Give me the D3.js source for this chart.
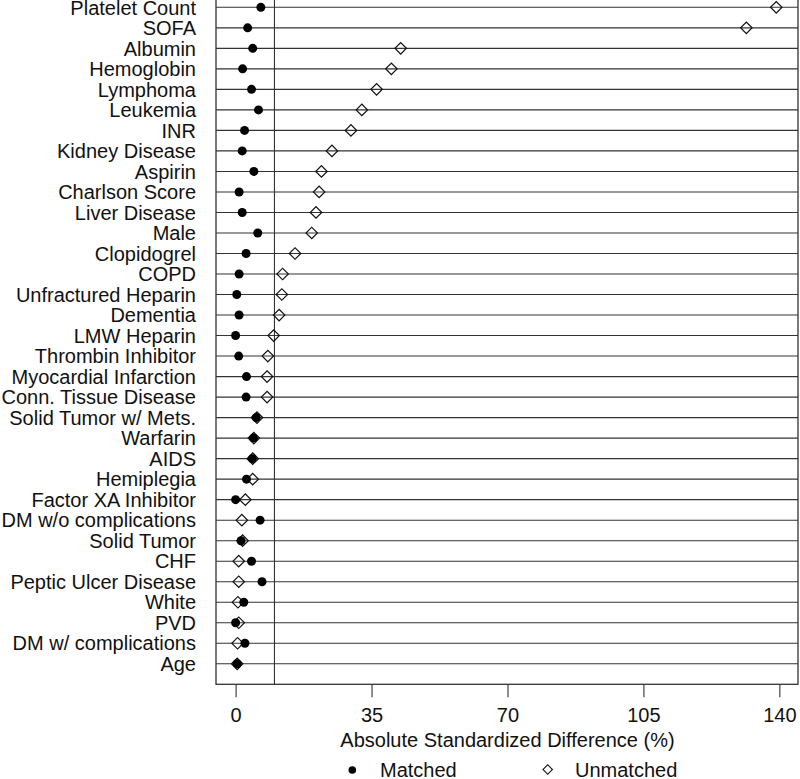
<!DOCTYPE html>
<html>
<meta charset="utf-8">
<script src="https://d3js.org/d3.v7.min.js"></script>
<style>
  body { margin: 0; background: #fff; }
  text { font-family: "Liberation Sans", Arial, sans-serif; fill: #111; }
</style>
<body>
<div id="my_dataviz"></div>
<script>

// covariates, top to bottom
var labels = ["Platelet Count", "SOFA", "Albumin", "Hemoglobin", "Lymphoma", "Leukemia",
  "INR", "Kidney Disease", "Aspirin", "Charlson Score", "Liver Disease", "Male",
  "Clopidogrel", "COPD", "Unfractured Heparin", "Dementia", "LMW Heparin",
  "Thrombin Inhibitor", "Myocardial Infarction", "Conn. Tissue Disease",
  "Solid Tumor w/ Mets.", "Warfarin", "AIDS", "Hemiplegia", "Factor XA Inhibitor",
  "DM w/o complications", "Solid Tumor", "CHF", "Peptic Ulcer Disease", "White",
  "PVD", "DM w/ complications", "Age"];

// absolute standardized difference (%)
var matched = [6.5, 3.1, 4.4, 1.8, 4.1, 5.9, 2.3, 1.7, 4.7, 0.9, 1.7, 5.7,
  2.7, 0.9, 0.3, 0.9, 0.0, 0.8, 2.8, 2.7, 5.3, 4.6, 4.3, 2.8, 0.0,
  6.3, 1.4, 4.1, 6.8, 2.1, 0.0, 2.4, 0.4];
var unmatched = [139.2, 131.5, 42.5, 40.1, 36.3, 32.5, 29.7, 24.8, 22.1, 21.5, 20.7, 19.6,
  15.3, 12.1, 11.9, 11.2, 9.8, 8.3, 8.1, 8.1, 5.5, 4.7, 4.4, 4.4, 2.5,
  1.6, 1.8, 0.8, 0.8, 0.6, 0.8, 0.5, 0.4];

var xTicks = [0, 35, 70, 105, 140];
var refLine = 10;

var width = 800, height = 779;
var box = {left: 216, right: 798, top: -13.2, bottom: 684.3};

var svg = d3.select("#my_dataviz")
  .append("svg")
    .attr("width", width)
    .attr("height", height);

var x = d3.scaleLinear()
    .domain([-5.05, 144.8])
    .range([box.left, box.right]);

var y = d3.scalePoint()
    .domain(labels)
    .range([box.top, box.bottom])
    .padding(1);

// row lines
svg.append("g").selectAll("line")
  .data(labels)
  .enter().append("line")
    .attr("x1", box.left)
    .attr("x2", box.right)
    .attr("y1", function(d) { return y(d); })
    .attr("y2", function(d) { return y(d); })
    .attr("stroke", "#333")
    .attr("stroke-width", 1.1);

// reference line at 10%
svg.append("line")
    .attr("x1", x(refLine)).attr("x2", x(refLine))
    .attr("y1", box.top).attr("y2", box.bottom)
    .attr("stroke", "#333")
    .attr("stroke-width", 1.1);

// frame
svg.append("rect")
    .attr("x", box.left)
    .attr("y", box.top)
    .attr("width", box.right - box.left)
    .attr("height", box.bottom - box.top)
    .attr("fill", "none")
    .attr("stroke", "#333")
    .attr("stroke-width", 1.3);

// row labels
svg.append("g").selectAll("text")
  .data(labels)
  .enter().append("text")
    .attr("x", 196)
    .attr("y", function(d) { return y(d); })
    .attr("dy", "0.36em")
    .attr("text-anchor", "end")
    .style("font-size", "20px")
    .text(function(d) { return d; });

var diamond = d3.symbol().type(d3.symbolSquare).size(66);

// unmatched: open diamonds
svg.append("g").selectAll("path")
  .data(unmatched)
  .enter().append("path")
    .attr("d", diamond)
    .attr("transform", function(d, i) { return "translate(" + x(d) + "," + y(labels[i]) + ") rotate(45)"; })
    .attr("fill", "none")
    .attr("stroke", "#111")
    .attr("stroke-width", 1.2);

// matched: filled dots
svg.append("g").selectAll("circle")
  .data(matched)
  .enter().append("circle")
    .attr("cx", function(d) { return x(d); })
    .attr("cy", function(d, i) { return y(labels[i]); })
    .attr("r", 4.5)
    .attr("fill", "#000");

// x axis
var xAxis = svg.append("g")
    .attr("transform", "translate(0," + box.bottom + ")")
    .call(d3.axisBottom(x).tickValues(xTicks).tickSize(13).tickPadding(11));
xAxis.select(".domain").remove();
xAxis.selectAll(".tick line").attr("stroke", "#333").attr("stroke-width", 1.1);
xAxis.selectAll(".tick text")
    .style("font-size", "20px")
    .style("font-family", "'Liberation Sans', Arial, sans-serif")
    .attr("fill", "#111");

svg.append("text")
    .attr("x", (x(0) + x(140)) / 2)
    .attr("y", 747.3)
    .attr("text-anchor", "middle")
    .style("font-size", "20px")
    .text("Absolute Standardized Difference (%)");

// legend
var legend = svg.append("g");
legend.append("circle")
    .attr("cx", 352.3).attr("cy", 770).attr("r", 3.8)
    .attr("fill", "#000");
legend.append("text")
    .attr("x", 380).attr("y", 777)
    .style("font-size", "20px")
    .text("Matched");
legend.append("path")
    .attr("d", d3.symbol().type(d3.symbolSquare).size(44))
    .attr("transform", "translate(547.7,769.5) rotate(45)")
    .attr("fill", "none")
    .attr("stroke", "#111")
    .attr("stroke-width", 1.1);
legend.append("text")
    .attr("x", 575).attr("y", 777)
    .style("font-size", "20px")
    .text("Unmatched");

</script>
</body>
</html>
